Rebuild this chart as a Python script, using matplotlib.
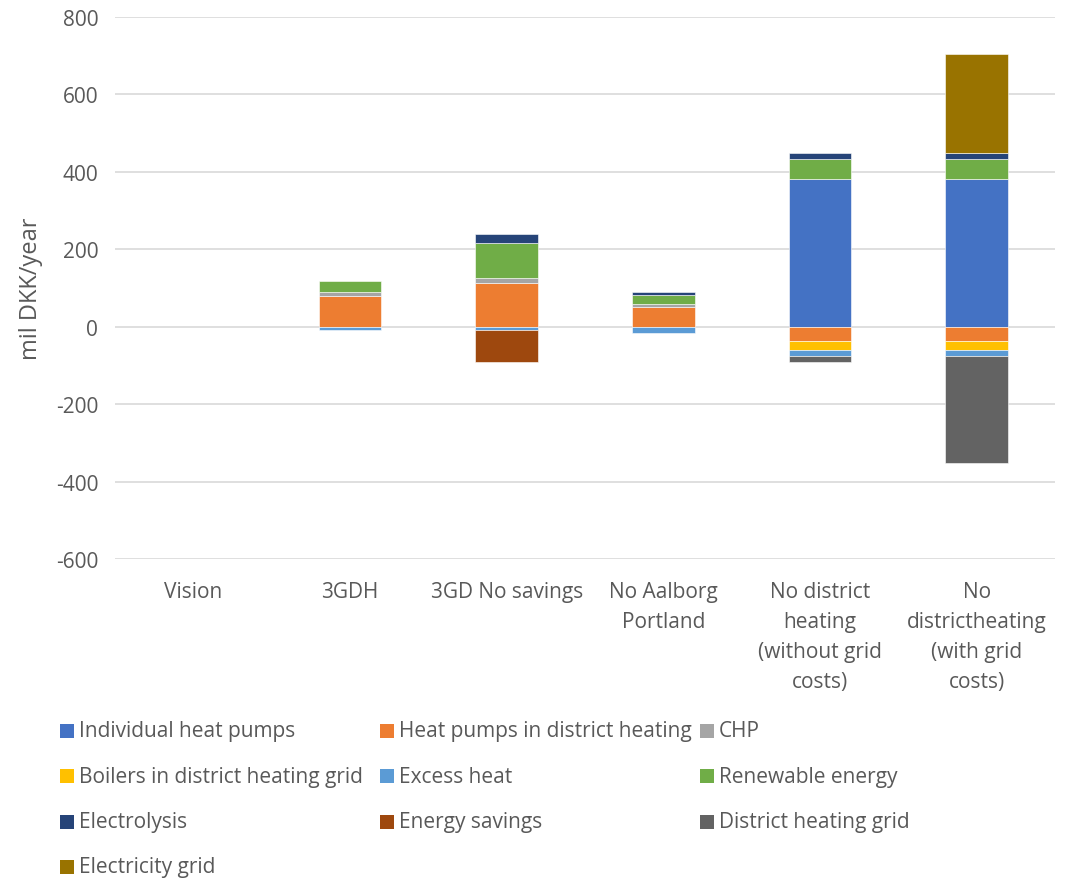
import matplotlib.pyplot as plt
from matplotlib.patches import Rectangle
import numpy as np

plt.rcParams['font.family'] = ['Open Sans', 'DejaVu Sans']
plt.rcParams['axes.unicode_minus'] = False

scenarios = ["Vision", "3GDH", "3GD No savings", "No Aalborg\nPortland",
             "No district\nheating\n(without grid\ncosts)",
             "No\ndistrictheating\n(with grid\ncosts)"]

# mil DKK/year per scenario
individual_hp = [0, 0, 0, 0, 382, 382]
hp_dh = [0, 80, 112, 50, -38, -38]
chp = [0, 10, 14, 9, 0, 0]
boilers = [0, 0, 0, 0, -23, -23]
excess_heat = [0, -8, -8, -16, -15, -15]
renewable = [0, 28, 91, 22, 52, 52]
electrolysis = [0, 0, 22, 9, 15, 15]
energy_savings = [0, 0, -83, 0, 0, 0]
dh_grid = [0, 0, 0, 0, -15, -277]
el_grid = [0, 0, 0, 0, 0, 256]

series = [
    ("Individual heat pumps", individual_hp, "#4472C4"),
    ("Heat pumps in district heating", hp_dh, "#ED7D31"),
    ("CHP", chp, "#A5A5A5"),
    ("Boilers in district heating grid", boilers, "#FFC000"),
    ("Excess heat", excess_heat, "#5B9BD5"),
    ("Renewable energy", renewable, "#70AD47"),
    ("Electrolysis", electrolysis, "#264478"),
    ("Energy savings", energy_savings, "#9E480E"),
    ("District heating grid", dh_grid, "#636363"),
    ("Electricity grid", el_grid, "#997300"),
]

W, H = 1068, 879
fig = plt.figure(figsize=(W / 100, H / 100), dpi=100)
ax = fig.add_axes([115 / W, 1 - 560 / H, 940 / W, 542 / H])

x = np.arange(len(scenarios))
pos = np.zeros(len(scenarios))
neg = np.zeros(len(scenarios))
for name, vals, col in series:
    v = np.array(vals, dtype=float)
    base = np.where(v >= 0, pos, neg)
    shown = np.where(v == 0, np.nan, v)  # skip empty segments
    ax.bar(x, shown, 0.4, bottom=base, color=col, edgecolor='white',
           linewidth=0.4, label=name, zorder=3)
    pos = pos + np.where(v > 0, v, 0)
    neg = neg + np.where(v < 0, v, 0)

ax.set_ylim(-600, 800)
ax.set_yticks(range(-600, 801, 200))
ax.set_xlim(-0.5, len(scenarios) - 0.5)
ax.set_xticks(x)
ax.set_xticklabels(scenarios, fontsize=15, color='#595959', linespacing=1.556)
ax.tick_params(axis='y', labelsize=15, labelcolor='#595959', length=0, pad=12)
ax.tick_params(axis='x', length=0, pad=16)
ax.grid(axis='y', color='#d9d9d9', linewidth=1.2, zorder=0)
for s in ax.spines.values():
    s.set_visible(False)
ax.set_ylabel("mil DKK/year", fontsize=17, color='#595959', labelpad=9)

# legend laid out like the original: three equal columns, row by row
for i, (name, vals, col) in enumerate(series):
    r, c = divmod(i, 3)
    lx = 60 + 320 * c
    ly = 732 + 45.3 * r
    fig.add_artist(Rectangle((lx / W, 1 - (ly + 7) / H), 14 / W, 14 / H,
                             facecolor=col, edgecolor='none',
                             transform=fig.transFigure))
    fig.text((lx + 19) / W, 1 - ly / H, name, fontsize=15, color='#595959',
             va='center', ha='left')

fig.savefig("out.png", dpi=100)
